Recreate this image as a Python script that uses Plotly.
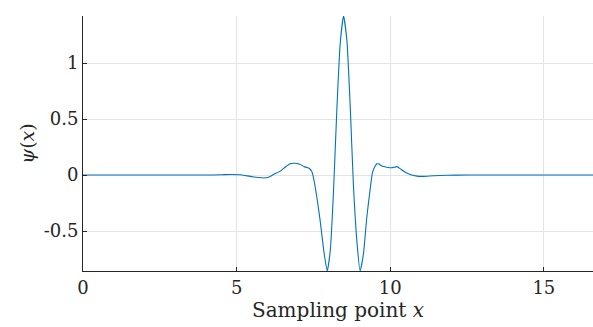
import plotly.graph_objects as go

x_vals = [0.0, 2.0, 4.0, 4.5, 4.79, 5.11, 5.44, 5.7, 5.87, 6.04, 6.2, 6.42, 6.58, 6.74, 6.9,
          7.07, 7.2, 7.29, 7.36, 7.45, 7.5, 7.56, 7.64, 7.72, 7.85, 7.95, 8.05, 8.15, 8.26,
          8.37, 8.48, 8.59, 8.70, 8.8, 8.92, 9.02, 9.13, 9.24, 9.35, 9.42, 9.51, 9.57, 9.62,
          9.73, 9.89, 10.06, 10.22, 10.33, 10.49, 10.65, 10.87, 11.08, 11.41, 11.85, 12.5,
          14.0, 16.6]
psi_vals = [0.0, 0.0, 0.0, 0.002, 0.005, 0.002, -0.012, -0.022, -0.027, -0.02, 0.005, 0.035,
            0.07, 0.10, 0.105, 0.095, 0.075, 0.068, 0.06, 0.03, -0.02, -0.11, -0.25, -0.41,
            -0.70, -0.857, -0.67, -0.17, 0.57, 1.17, 1.42, 1.2, 0.6, -0.08, -0.61, -0.857,
            -0.70, -0.37, -0.12, 0.02, 0.08, 0.10, 0.10, 0.08, 0.07, 0.065, 0.075, 0.055, 0.025,
            0.005, -0.01, -0.012, -0.006, -0.002, 0.0, 0.0, 0.0]

x_ticks = [0, 5, 10, 15]
y_ticks = [-0.5, 0, 0.5, 1]
y_tick_text = ["-0.5", "0", "0.5", "1"]

font_family = "DejaVu Serif, Liberation Serif, serif"
ink = "#262626"

fig = go.Figure(go.Scatter(x=x_vals, y=psi_vals, mode="lines",
                           line=dict(color="#0072BD", width=1.1, shape="spline", smoothing=0.5),
                           hoverinfo="skip"))

fig.update_layout(
    width=593, height=327,
    margin=dict(l=83, r=0, t=16, b=56),
    paper_bgcolor="white", plot_bgcolor="white",
    showlegend=False,
    font=dict(family=font_family, size=18, color=ink),
)
fig.update_xaxes(
    range=[0, 16.6], tickvals=x_ticks, ticks="inside", ticklen=4, tickcolor=ink,
    showline=True, linecolor=ink, linewidth=1,
    showgrid=True, gridcolor="#e3e3e3", gridwidth=1, zeroline=False,
    tickfont=dict(family=font_family, size=18, color=ink),
    title=dict(text="Sampling point <i>x</i>", font=dict(family=font_family, size=20, color=ink),
               standoff=4),
)
fig.update_yaxes(
    range=[-0.857, 1.42], tickvals=y_ticks, ticktext=y_tick_text, ticks="inside", ticklen=4,
    tickcolor=ink, showline=True, linecolor=ink, linewidth=1,
    showgrid=True, gridcolor="#e3e3e3", gridwidth=1, zeroline=False,
    tickfont=dict(family=font_family, size=18, color=ink),
    title=dict(text="<i>ψ</i>(<i>x</i>)", font=dict(family=font_family, size=19, color=ink),
               standoff=4),
)

fig.write_html("out.html", config={"displayModeBar": False, "staticPlot": True},
               post_script="document.body.style.margin='0';document.body.style.overflow='hidden';")
